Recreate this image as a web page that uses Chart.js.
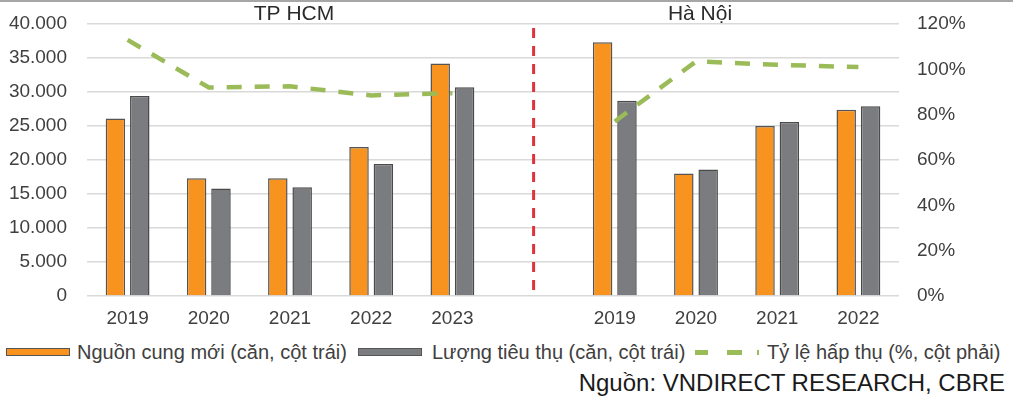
<!DOCTYPE html>
<html>
<head>
<meta charset="utf-8">
<script src="https://cdn.jsdelivr.net/npm/chart.js@4.4.0/dist/chart.umd.min.js"></script>
<style>
    body { margin: 0; background: #fff; font-family: 'Liberation Sans', Arial, sans-serif; }
    #wrap { position: relative; width: 1013px; height: 396px; overflow: hidden; border-top: 2px solid #a6a6a6; box-sizing: border-box; }
    #chartBox { position: absolute; left: 0; top: -2px; width: 1013px; height: 336px; }
    .lg-box { position: absolute; height: 8px; box-sizing: border-box; border: 1.5px solid #555; }
    .lg-text { position: absolute; font-size: 20px; line-height: 24px; color: #404040; white-space: nowrap; }
    #source { position: absolute; right: 8px; top: 367px; font-size: 24px; line-height: 28px; color: #1a1a1a; white-space: nowrap; }
</style>
</head>
<body>
<div id="wrap">
    <div id="chartBox"><canvas id="mainChart" width="1013" height="336"></canvas></div>
    <div class="lg-box" style="left:6px;top:346px;width:64px;background:#f7931e;"></div>
    <span class="lg-text" style="left:77px;top:338px;">Nguồn cung mới (căn, cột trái)</span>
    <div class="lg-box" style="left:358px;top:346px;width:64px;background:#7b7c80;"></div>
    <span class="lg-text" style="left:432px;top:338px;">Lượng tiêu thụ (căn, cột trái)</span>
    <div style="position:absolute;left:695px;top:348px;width:64px;height:5px;background:linear-gradient(to right,#9bbb59 0 13px,transparent 13px 32px,#9bbb59 32px 47px,transparent 47px 62px,#9bbb59 62px 64px);"></div>
    <span class="lg-text" style="left:767px;top:338px;">Tỷ lệ hấp thụ (%, cột phải)</span>
    <div id="source">Nguồn: VNDIRECT RESEARCH, CBRE</div>
</div>
<script>
// Dữ liệu (cột giữa để trống làm khoảng ngăn)
const years = ['2019', '2020', '2021', '2022', '2023', '', '2019', '2020', '2021', '2022'];
const supply = [26100, 17300, 17300, 21900, 34200, null, 37300, 18000, 25000, 27400];
const sales = [29400, 15800, 16000, 19400, 30700, null, 28700, 18600, 25600, 27900];
const absorption = [113, 92, 92.5, 88.5, 89.5, null, 77, 103.5, 102, 101];
const groupTitles = [{ text: 'TP HCM', index: 2 }, { text: 'Hà Nội', index: 7 }];
const dividerIndex = 5;

const tickFont = { family: "'Liberation Sans', Arial, sans-serif", size: 19 };
const tickColor = '#404040';

// Đường kẻ đỏ ngăn giữa hai thành phố + tiêu đề nhóm
const overlayPlugin = {
    id: 'overlay',
    beforeDatasetsDraw(chart) {
        const { ctx, chartArea, scales } = chart;
        const x = scales.x.getPixelForValue(dividerIndex);
        ctx.save();
        ctx.strokeStyle = '#e0323c';
        ctx.lineWidth = 3;
        ctx.setLineDash([10, 8]);
        ctx.beginPath();
        ctx.moveTo(x, chartArea.top + 4);
        ctx.lineTo(x, chartArea.bottom);
        ctx.stroke();
        ctx.restore();
    },
    afterDraw(chart) {
        const { ctx, chartArea, scales } = chart;
        ctx.save();
        ctx.font = "21px 'Liberation Sans', Arial, sans-serif";
        ctx.fillStyle = '#2b2b2b';
        ctx.textAlign = 'center';
        ctx.textBaseline = 'middle';
        groupTitles.forEach(t => {
            ctx.fillText(t.text, scales.x.getPixelForValue(t.index) + 4, chartArea.top - 10);
        });
        ctx.restore();
    }
};

const ctx = document.getElementById('mainChart').getContext('2d');
new Chart(ctx, {
    type: 'bar',
    data: {
        labels: years,
        datasets: [
            {
                type: 'line',
                label: 'Tỷ lệ hấp thụ (%, cột phải)',
                data: absorption,
                yAxisID: 'y2',
                borderColor: '#9bbb59',
                borderWidth: 4.5,
                borderDash: [15, 13],
                pointRadius: 0,
                tension: 0,
                spanGaps: false,
                order: 0
            },
            {
                label: 'Nguồn cung mới (căn, cột trái)',
                data: supply,
                yAxisID: 'y',
                backgroundColor: '#f7931e',
                borderColor: '#555555',
                borderWidth: 1.5,
                categoryPercentage: 0.6,
                barPercentage: 0.8,
                order: 1
            },
            {
                label: 'Lượng tiêu thụ (căn, cột trái)',
                data: sales,
                yAxisID: 'y',
                backgroundColor: '#7b7c80',
                borderColor: '#4a4a4a',
                borderWidth: 1.5,
                categoryPercentage: 0.6,
                barPercentage: 0.8,
                order: 1
            }
        ]
    },
    options: {
        responsive: false,
        animation: false,
        layout: { padding: { top: 24, left: 0, right: 0, bottom: 0 } },
        plugins: {
            legend: { display: false },
            tooltip: { enabled: false }
        },
        scales: {
            x: {
                grid: { display: false },
                border: { display: false },
                ticks: { font: tickFont, color: tickColor, padding: 3, maxRotation: 0, autoSkip: false },
                afterFit: s => { s.height = 40; }
            },
            y: {
                position: 'left',
                min: 0,
                max: 40000,
                grid: { color: '#d9d9d9', lineWidth: 1.5, drawTicks: false },
                border: { display: false },
                ticks: {
                    stepSize: 5000,
                    font: tickFont,
                    color: tickColor,
                    padding: 20,
                    callback: v => String(v).replace(/\B(?=(\d{3})+(?!\d))/g, '.')
                },
                afterFit: s => { s.width = 87; s.paddingTop = 0; s.paddingBottom = 0; }
            },
            y2: {
                position: 'right',
                min: 0,
                max: 120,
                grid: { display: false, drawTicks: false },
                border: { display: false },
                ticks: {
                    stepSize: 20,
                    font: tickFont,
                    color: tickColor,
                    padding: 18,
                    callback: v => v + '%'
                },
                afterFit: s => { s.width = 114; s.paddingTop = 0; s.paddingBottom = 0; }
            }
        }
    },
    plugins: [overlayPlugin]
});
</script>
</body>
</html>
